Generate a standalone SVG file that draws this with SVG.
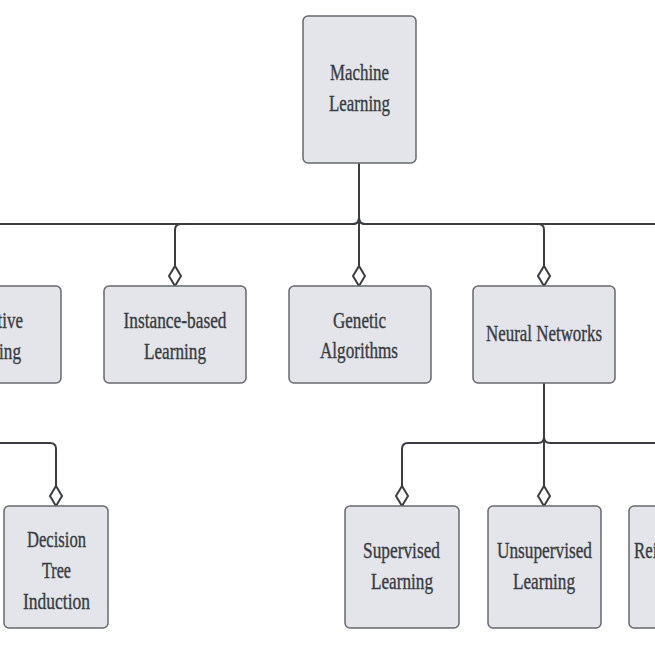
<svg xmlns="http://www.w3.org/2000/svg" width="655" height="655" viewBox="0 0 655 655">
<style>
.box{fill:#e3e5ea;stroke:#66696f;stroke-width:1.5}
.lbl{font-family:"Liberation Serif","DejaVu Serif",serif;font-size:22.5px;fill:#383b40;stroke:#383b40;stroke-width:0.35;text-anchor:middle}
.edge{fill:none;stroke:#3a3d42;stroke-width:2}
.dia{fill:#ffffff;stroke:#3a3d42;stroke-width:2}
</style>
<rect width="655" height="655" fill="#ffffff"/>
<g id="connectors">
<path class="edge" d="M359 163 L359 224"/>
<path class="edge" d="M359 218 Q359 224 353 224 L-4 224 Q-10 224 -10 230 L-10 266"/>
<path class="edge" d="M359 218 Q359 224 353 224 L181 224 Q175 224 175 230 L175 266"/>
<path class="edge" d="M359 224 L359 266"/>
<path class="edge" d="M359 218 Q359 224 365 224 L538 224 Q544 224 544 230 L544 266"/>
<path class="edge" d="M359 218 Q359 224 365 224 L720 224 Q726 224 726 230 L726 266"/>
<path class="edge" d="M-10 383 L-10 437 Q-10 443 -4 443 L50 443 Q56 443 56 449 L56 486"/>
<path class="edge" d="M544 383 L544 443"/>
<path class="edge" d="M544 437 Q544 443 538 443 L408 443 Q402 443 402 449 L402 486"/>
<path class="edge" d="M544 443 L544 486"/>
<path class="edge" d="M544 437 Q544 443 550 443 L680 443 Q686 443 686 449 L686 486"/>
<path class="dia" d="M175 286 L181 276 L175 266 L169 276 Z"/>
<path class="dia" d="M359 286 L365 276 L359 266 L353 276 Z"/>
<path class="dia" d="M544 286 L550 276 L544 266 L538 276 Z"/>
<path class="dia" d="M56 506 L62 496 L56 486 L50 496 Z"/>
<path class="dia" d="M402 506 L408 496 L402 486 L396 496 Z"/>
<path class="dia" d="M544 506 L550 496 L544 486 L538 496 Z"/>
</g>
<g id="machine-learning">
<rect class="box" x="303" y="16" width="113" height="147" rx="5"/>
<text class="lbl" x="359.5" y="80" textLength="59" lengthAdjust="spacingAndGlyphs">Machine</text>
<text class="lbl" x="359.5" y="111" textLength="61" lengthAdjust="spacingAndGlyphs">Learning</text>
</g>
<g id="inductive-learning">
<rect class="box" x="-81" y="286" width="142" height="97" rx="5"/>
<text class="lbl" x="-9" y="328" textLength="64" lengthAdjust="spacingAndGlyphs">Inductive</text>
<text class="lbl" x="-10" y="359" textLength="62" lengthAdjust="spacingAndGlyphs">Learning</text>
</g>
<g id="instance-based">
<rect class="box" x="104" y="286" width="142" height="97" rx="5"/>
<text class="lbl" x="175" y="328" textLength="103" lengthAdjust="spacingAndGlyphs">Instance-based</text>
<text class="lbl" x="175" y="359" textLength="62" lengthAdjust="spacingAndGlyphs">Learning</text>
</g>
<g id="genetic-algorithms">
<rect class="box" x="289" y="286" width="142" height="97" rx="5"/>
<text class="lbl" x="359.5" y="328" textLength="53" lengthAdjust="spacingAndGlyphs">Genetic</text>
<text class="lbl" x="359" y="358" textLength="78" lengthAdjust="spacingAndGlyphs">Algorithms</text>
</g>
<g id="neural-networks">
<rect class="box" x="473" y="286" width="142" height="97" rx="5"/>
<text class="lbl" x="544" y="341" textLength="116" lengthAdjust="spacingAndGlyphs">Neural Networks</text>
</g>
<g id="decision-tree-induction">
<rect class="box" x="4" y="506" width="104" height="122" rx="5"/>
<text class="lbl" x="56.5" y="547" textLength="59" lengthAdjust="spacingAndGlyphs">Decision</text>
<text class="lbl" x="56.5" y="578" textLength="29" lengthAdjust="spacingAndGlyphs">Tree</text>
<text class="lbl" x="56.5" y="609" textLength="67" lengthAdjust="spacingAndGlyphs">Induction</text>
</g>
<g id="supervised-learning">
<rect class="box" x="345" y="506" width="114" height="122" rx="5"/>
<text class="lbl" x="401.5" y="558" textLength="77" lengthAdjust="spacingAndGlyphs">Supervised</text>
<text class="lbl" x="402" y="589" textLength="62" lengthAdjust="spacingAndGlyphs">Learning</text>
</g>
<g id="unsupervised-learning">
<rect class="box" x="488" y="506" width="113" height="122" rx="5"/>
<text class="lbl" x="544.5" y="558" textLength="95" lengthAdjust="spacingAndGlyphs">Unsupervised</text>
<text class="lbl" x="544" y="589" textLength="62" lengthAdjust="spacingAndGlyphs">Learning</text>
</g>
<g id="reinforcement-learning">
<rect class="box" x="629" y="506" width="114" height="122" rx="5"/>
<text class="lbl" x="684" y="558" textLength="100" lengthAdjust="spacingAndGlyphs">Reinforcement</text>
<text class="lbl" x="686" y="589" textLength="62" lengthAdjust="spacingAndGlyphs">Learning</text>
</g>
</svg>
